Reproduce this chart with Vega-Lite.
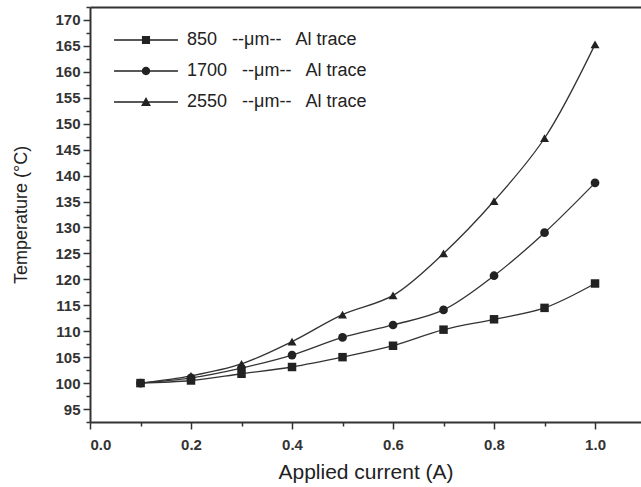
{
  "$schema": "https://vega.github.io/schema/vega-lite/v6.json",
  "width": 551,
  "height": 415,
  "autosize": {"type": "none"},
  "padding": {"left": 90, "top": 7, "right": 0, "bottom": 65},
  "background": "white",
  "config": {"view": {"stroke": null}, "font": "Liberation Sans"},
  "data": {
    "values": [
      {"series": "850", "current": 0.1, "temp": 100.0},
      {"series": "850", "current": 0.2, "temp": 100.5},
      {"series": "850", "current": 0.3, "temp": 101.8},
      {"series": "850", "current": 0.4, "temp": 103.1},
      {"series": "850", "current": 0.5, "temp": 105.0},
      {"series": "850", "current": 0.6, "temp": 107.2},
      {"series": "850", "current": 0.7, "temp": 110.3},
      {"series": "850", "current": 0.8, "temp": 112.3},
      {"series": "850", "current": 0.9, "temp": 114.5},
      {"series": "850", "current": 1.0, "temp": 119.2},
      {"series": "1700", "current": 0.1, "temp": 100.0},
      {"series": "1700", "current": 0.2, "temp": 101.0},
      {"series": "1700", "current": 0.3, "temp": 102.9},
      {"series": "1700", "current": 0.4, "temp": 105.4},
      {"series": "1700", "current": 0.5, "temp": 108.8},
      {"series": "1700", "current": 0.6, "temp": 111.2},
      {"series": "1700", "current": 0.7, "temp": 114.1},
      {"series": "1700", "current": 0.8, "temp": 120.7},
      {"series": "1700", "current": 0.9, "temp": 129.0},
      {"series": "1700", "current": 1.0, "temp": 138.6},
      {"series": "2550", "current": 0.1, "temp": 100.0},
      {"series": "2550", "current": 0.2, "temp": 101.4},
      {"series": "2550", "current": 0.3, "temp": 103.7},
      {"series": "2550", "current": 0.4, "temp": 108.0},
      {"series": "2550", "current": 0.5, "temp": 113.2},
      {"series": "2550", "current": 0.6, "temp": 116.9},
      {"series": "2550", "current": 0.7, "temp": 125.0},
      {"series": "2550", "current": 0.8, "temp": 135.1},
      {"series": "2550", "current": 0.9, "temp": 147.2},
      {"series": "2550", "current": 1.0, "temp": 165.3}
    ]
  },
  "encoding": {
    "y": {
      "field": "temp",
      "type": "quantitative",
      "title": "Temperature (°C)",
      "scale": {"domain": [92.5, 172.5], "nice": false, "zero": false},
      "axis": {
        "values": [92.5, 95, 97.5, 100, 102.5, 105, 107.5, 110, 112.5, 115, 117.5, 120, 122.5, 125, 127.5, 130, 132.5, 135, 137.5, 140, 142.5, 145, 147.5, 150, 152.5, 155, 157.5, 160, 162.5, 165, 167.5, 170, 172.5],
        "labelExpr": "(datum.value % 5 == 0 && datum.value >= 95 && datum.value <= 170) ? datum.label : ''",
        "tickSize": {"condition": {"test": "datum.value % 5 == 0", "value": 7}, "value": 4},
        "grid": false,
        "domainColor": "#333",
        "domainWidth": 2,
        "tickColor": "#333",
        "tickWidth": 1.5,
        "labelFont": "Liberation Sans",
        "labelFontWeight": "bold",
        "labelFontSize": 15,
        "labelColor": "#333",
        "labelPadding": 3,
        "titleFont": "Liberation Sans",
        "titleFontSize": 18,
        "titleFontWeight": "normal",
        "titleColor": "#222",
        "titlePadding": 24
      }
    }
  },
  "layer": [
    {
      "mark": {"type": "line", "interpolate": "catmull-rom", "color": "#333", "strokeWidth": 1.3},
      "encoding": {
        "x": {
          "field": "current",
          "type": "quantitative",
          "title": "Applied current (A)",
          "scale": {"domain": [0, 1.091], "nice": false, "zero": false},
          "axis": {
            "orient": "bottom",
            "values": [0, 0.1, 0.2, 0.3, 0.4, 0.5, 0.6, 0.7, 0.8, 0.9, 1.0],
            "format": ".1f",
            "labelExpr": "round(datum.value * 10) % 2 == 0 ? datum.label : ''",
            "tickSize": {"condition": {"test": "round(datum.value * 10) % 2 == 0", "value": 7}, "value": 4},
            "grid": false,
            "domainColor": "#333",
            "domainWidth": 2,
            "tickColor": "#333",
            "tickWidth": 1.5,
            "labelFont": "Liberation Sans",
            "labelFontWeight": "bold",
            "labelFontSize": 15,
            "labelColor": "#333",
            "labelPadding": 8,
            "titleFont": "Liberation Sans",
            "titleFontSize": 21,
            "titleFontWeight": "normal",
            "titleColor": "#222",
            "titlePadding": 9
          }
        },
        "detail": {"field": "series", "type": "nominal"}
      }
    },
    {
      "mark": {"type": "point", "filled": true, "opacity": 1, "color": "#222"},
      "encoding": {
        "x": {
          "field": "current",
          "type": "quantitative",
          "axis": {"orient": "top", "labels": false, "ticks": false, "title": null, "grid": false, "domainColor": "#333", "domainWidth": 2}
        },
        "shape": {
          "field": "series",
          "type": "nominal",
          "scale": {"domain": ["850", "1700", "2550"], "range": ["square", "circle", "triangle-up"]},
          "legend": null
        },
        "size": {
          "field": "series",
          "type": "nominal",
          "scale": {"domain": ["850", "1700", "2550"], "range": [72, 80, 110]},
          "legend": null
        }
      }
    },
    {
      "mark": {"type": "point", "filled": true, "color": "#222", "opacity": 0},
      "encoding": {
        "x": {"field": "current", "type": "quantitative", "axis": null},
        "shape": {
          "field": "series",
          "type": "nominal",
          "scale": {
            "domain": ["850", "1700", "2550"],
            "range": [
              "M-2.13,-0.045H2.13V0.045H-2.13ZM-0.27,-0.27H0.27V0.27H-0.27Z",
              "M-2.13,-0.045H2.13V0.045H-2.13ZM-0.28,0A0.28,0.28 0 1,1 0.28,0A0.28,0.28 0 1,1 -0.28,0Z",
              "M-2.13,-0.045H2.13V0.045H-2.13ZM0,-0.34L0.33,0.26L-0.33,0.26Z"
            ]
          },
          "legend": {
            "orient": "none",
            "legendX": 41,
            "legendY": 18,
            "title": null,
            "padding": 0,
            "symbolSize": 900,
            "symbolFillColor": "#222",
            "symbolStrokeWidth": 0,
            "symbolOpacity": 1,
            "labelFont": "Liberation Sans",
            "labelFontSize": 18,
            "labelColor": "#222",
            "labelOffset": 26,
            "labelLimit": 0,
            "rowPadding": 7,
            "labelExpr": "datum.label + '\u00a0\u00a0 --μm--\u00a0\u00a0 Al trace'"
          }
        }
      }
    }
  ],
  "resolve": {"axis": {"x": "independent"}, "scale": {"shape": "independent", "size": "independent"}}
}
